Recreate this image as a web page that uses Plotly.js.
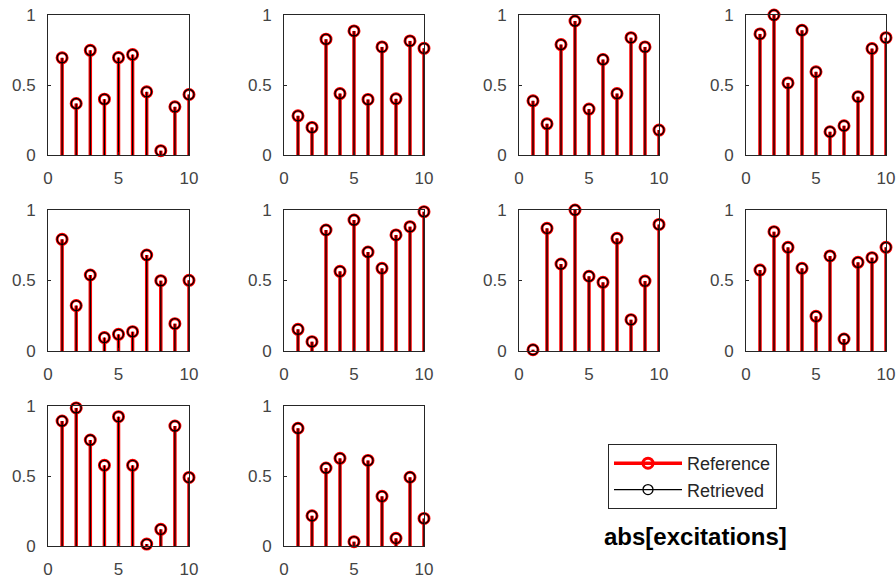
<!DOCTYPE html>
<html>
<head>
<meta charset="utf-8">
<script src="https://cdn.plot.ly/plotly-3.0.1.min.js"></script>
<style>
  html, body { margin: 0; padding: 0; background: #ffffff; }
  #chart { width: 896px; height: 580px; }
</style>
</head>
<body>
<div id="chart"></div>
<script>
// Element index along each excitation vector
const elementIndex = [1, 2, 3, 4, 5, 6, 7, 8, 9, 10];

// |excitation| of the reference set, one array per subplot
const excitation1  = [0.694, 0.368, 0.748, 0.399, 0.696, 0.717, 0.451, 0.031, 0.344, 0.432];
const excitation2  = [0.280, 0.197, 0.827, 0.439, 0.886, 0.397, 0.772, 0.401, 0.815, 0.762];
const excitation3  = [0.387, 0.223, 0.789, 0.957, 0.328, 0.682, 0.439, 0.838, 0.772, 0.178];
const excitation4  = [0.865, 1.000, 0.515, 0.891, 0.594, 0.166, 0.209, 0.416, 0.760, 0.838];
const excitation5  = [0.792, 0.322, 0.539, 0.095, 0.118, 0.137, 0.681, 0.499, 0.194, 0.501];
const excitation6  = [0.154, 0.066, 0.858, 0.565, 0.929, 0.702, 0.586, 0.823, 0.882, 0.988];
const excitation7  = [0.009, 0.870, 0.617, 1.000, 0.530, 0.487, 0.799, 0.222, 0.496, 0.898];
const excitation8  = [0.574, 0.846, 0.735, 0.586, 0.246, 0.674, 0.085, 0.629, 0.662, 0.735];
const excitation9  = [0.893, 0.986, 0.757, 0.576, 0.924, 0.576, 0.014, 0.119, 0.857, 0.490];
const excitation10 = [0.841, 0.216, 0.557, 0.626, 0.031, 0.611, 0.355, 0.055, 0.491, 0.197];

const referenceSets = [excitation1, excitation2, excitation3, excitation4, excitation5,
                       excitation6, excitation7, excitation8, excitation9, excitation10];
// The retrieved excitations coincide with the reference ones
const retrievedSets = referenceSets;

const xTicks = [0, 5, 10];
const yTicks = [0, 0.5, 1];
const yTickText = ['0', '0.5', '1'];

// Axes boxes in pixels: [left, right] columns and [top, bottom] rows
const W = 896, H = 580;
const columnsPx = [[48, 189], [284, 424], [519, 659], [746, 886]];
const rowsPx = [[15, 155], [210, 351], [406, 546]];

const FONT = 'Arial, "Liberation Sans", Helvetica, sans-serif';
const AXIS_COLOR = '#262626';
const TICK_COLOR = '#444444';

// Stem segments (base to tip) separated by gaps
function stemX(xs) { const out = []; xs.forEach(x => out.push(x, x, null)); return out; }
function stemY(ys) { const out = []; ys.forEach(y => out.push(0, y, null)); return out; }
// Isolated tips so that no connecting line is drawn between them
function tipX(xs) { const out = []; xs.forEach(x => out.push(x, null)); return out; }
function tipY(ys) { const out = []; ys.forEach(y => out.push(y, null)); return out; }

const styles = [
  { name: 'Reference', color: '#ff0000', lineWidth: 3.5, markerSize: 10, markerLine: 3 },
  { name: 'Retrieved', color: '#000000', lineWidth: 1.2, markerSize: 10, markerLine: 1.3 }
];

const data = [];
const layout = {
  width: W, height: H,
  margin: { l: 0, r: 0, t: 0, b: 0 },
  paper_bgcolor: '#ffffff',
  plot_bgcolor: '#ffffff',
  font: { family: FONT, color: TICK_COLOR },
  showlegend: true,
  legend: {
    x: 608 / W, y: 1 - 444 / H, xanchor: 'left', yanchor: 'top',
    bordercolor: AXIS_COLOR, borderwidth: 1, bgcolor: '#ffffff',
    font: { family: FONT, size: 18, color: '#262626' },
    itemwidth: 68, traceorder: 'normal', tracegroupgap: 0
  },
  annotations: [{
    text: '<b>abs[excitations]</b>',
    xref: 'paper', yref: 'paper',
    x: 695 / W, y: 1 - 536 / H, xanchor: 'center', yanchor: 'middle',
    showarrow: false,
    font: { family: FONT, size: 24, color: '#000000' }
  }]
};

referenceSets.forEach((refVals, k) => {
  const row = Math.floor(k / 4), col = k % 4;
  const id = k === 0 ? '' : String(k + 1);
  const xa = 'x' + id, ya = 'y' + id;
  const [l, r] = columnsPx[col];
  const [t, b] = rowsPx[row];

  [refVals, retrievedSets[k]].forEach((vals, s) => {
    const st = styles[s];
    data.push({
      type: 'scatter', mode: 'lines', xaxis: xa, yaxis: ya,
      x: stemX(elementIndex), y: stemY(vals),
      line: { color: st.color, width: st.lineWidth },
      showlegend: false, hoverinfo: 'skip', cliponaxis: false,
      legendgroup: st.name
    });
    data.push({
      type: 'scatter', mode: 'lines+markers', xaxis: xa, yaxis: ya,
      x: tipX(elementIndex), y: tipY(vals),
      name: st.name, legendgroup: st.name,
      showlegend: k === 0,
      line: { color: st.color, width: st.lineWidth },
      marker: { symbol: 'circle-open', size: st.markerSize, color: st.color,
                line: { color: st.color, width: st.markerLine } },
      connectgaps: false, cliponaxis: false
    });
  });

  layout['xaxis' + id] = {
    domain: [l / W, r / W], anchor: ya, range: [0, 10],
    tickmode: 'array', tickvals: xTicks,
    showline: true, mirror: true, linecolor: AXIS_COLOR, linewidth: 1,
    ticks: 'inside', ticklen: 3, tickcolor: AXIS_COLOR,
    showgrid: false, zeroline: false, fixedrange: true,
    ticklabelstandoff: 8,
    tickfont: { family: FONT, size: 17, color: TICK_COLOR }
  };
  layout['yaxis' + id] = {
    domain: [1 - b / H, 1 - t / H], anchor: xa, range: [0, 1],
    tickmode: 'array', tickvals: yTicks, ticktext: yTickText,
    showline: true, mirror: true, linecolor: AXIS_COLOR, linewidth: 1,
    ticks: 'inside', ticklen: 3, tickcolor: AXIS_COLOR,
    showgrid: false, zeroline: false, fixedrange: true,
    ticklabelstandoff: 8,
    tickfont: { family: FONT, size: 17, color: TICK_COLOR }
  };
});

Plotly.newPlot('chart', data, layout, { displayModeBar: false, staticPlot: true });
</script>
</body>
</html>
